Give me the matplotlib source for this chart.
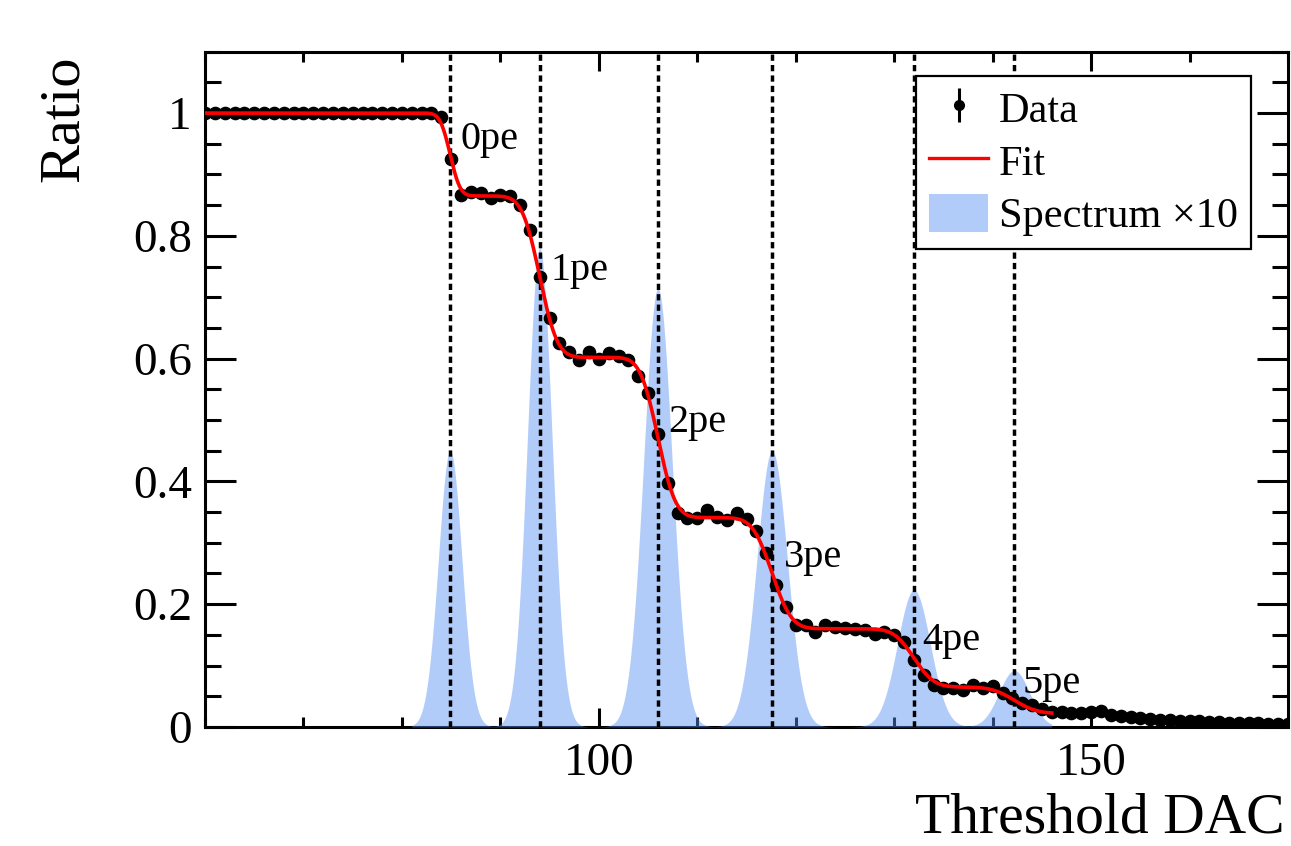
import math
import numpy as np
import matplotlib
matplotlib.use("Agg")
import matplotlib.pyplot as plt
from matplotlib.ticker import MultipleLocator, FuncFormatter
from matplotlib.patches import Patch
from matplotlib.lines import Line2D
from matplotlib.legend_handler import HandlerErrorbar

# ---------------- data ----------------
threshold = list(range(60, 171))
ratio = [1.0] * 24 + [
    0.993, 0.925, 0.866, 0.871, 0.869, 0.862, 0.866, 0.865, 0.850, 0.809,   # 84-93
    0.733, 0.667, 0.625, 0.610, 0.598, 0.611, 0.599, 0.609, 0.604, 0.597,   # 94-103
    0.572, 0.544, 0.477, 0.397, 0.349, 0.341, 0.340, 0.353, 0.342, 0.337,   # 104-113
    0.349, 0.338, 0.320, 0.283, 0.231, 0.196, 0.166, 0.166, 0.155, 0.166,   # 114-123
    0.163, 0.161, 0.159, 0.158, 0.151, 0.155, 0.150, 0.139, 0.109, 0.085,   # 124-133
    0.068, 0.063, 0.063, 0.061, 0.068, 0.063, 0.067, 0.055, 0.047, 0.039,   # 134-143
    0.036, 0.030, 0.025, 0.024, 0.023, 0.022, 0.024, 0.026, 0.020, 0.018,   # 144-153
    0.017, 0.014, 0.013, 0.012, 0.011, 0.010, 0.009, 0.009, 0.008, 0.008,   # 154-163
    0.007, 0.007, 0.006, 0.006, 0.005, 0.005, 0.005,                        # 164-170
]

pe_labels = ["0pe", "1pe", "2pe", "3pe", "4pe", "5pe"]
pe_pos = [84.9, 94.0, 106.0, 117.6, 132.0, 142.2]
label_x = [85.9, 95.1, 107.1, 118.8, 132.8, 143.0]
label_y = [0.941, 0.728, 0.481, 0.261, 0.125, 0.055]

# fit model (sum of error-function steps)
plateau_levels = [1.0, 0.865, 0.602, 0.341, 0.160, 0.065, 0.022]
fit_sigma = [0.8, 1.4, 1.4, 1.55, 1.6, 1.8]
fit_range = (60, 146)

# spectrum x10 (gaussian peaks)
spec_height = [0.45, 0.78, 0.714, 0.45, 0.223, 0.092]
spec_sigma = [1.2, 1.25, 1.45, 1.55, 1.67, 1.55]
spec_range = (81, 146)

# ---------------- style ----------------
plt.rcParams["font.family"] = ["Liberation Serif", "DejaVu Serif"]

fig = plt.figure(figsize=(12.91, 8.46), dpi=100)
ax = fig.add_axes([0.1588, 0.1407, 0.9977 - 0.1588, 0.9389 - 0.1407])

erf = np.vectorize(math.erf)

# spectrum
xs_s = np.linspace(spec_range[0], spec_range[1], 1500)
spec = np.zeros_like(xs_s)
for mu, h, s in zip(pe_pos, spec_height, spec_sigma):
    spec += h * np.exp(-0.5 * ((xs_s - mu) / s) ** 2)
spec_color = "#5891f4"
ax.fill_between(xs_s, 0, spec, color=spec_color, alpha=0.46, lw=0, zorder=3)

# dashed lines
for mu in pe_pos:
    ax.axvline(mu, color="black", lw=2.5, linestyle=(0, (1.8, 1.2)), zorder=4)

# data points
ax.plot(threshold, ratio, "o", color="black", ms=8.8, zorder=5)

# fit
xs_f = np.linspace(fit_range[0], fit_range[1], 1500)
levels = np.array(plateau_levels)
drops = levels[:-1] - levels[1:]
fit = np.full_like(xs_f, levels[-1])
for mu, d, s in zip(pe_pos, drops, fit_sigma):
    fit += d * 0.5 * (1 - erf((xs_f - mu) / (s * math.sqrt(2))))
ax.plot(xs_f, fit, color="red", lw=2.6, zorder=6)

# pe labels
for lx, ly, t in zip(label_x, label_y, pe_labels):
    ax.text(lx, ly, t, fontsize=29, ha="left", va="baseline", zorder=7)

ax.set_xlim(60, 170)
ax.set_ylim(0, 1.1)

ax.xaxis.set_major_locator(MultipleLocator(50))
ax.xaxis.set_minor_locator(MultipleLocator(10))
ax.yaxis.set_major_locator(MultipleLocator(0.2))
ax.yaxis.set_minor_locator(MultipleLocator(0.05))
ax.yaxis.set_major_formatter(FuncFormatter(lambda v, p: f"{v:g}"))
ax.xaxis.set_major_formatter(FuncFormatter(lambda v, p: f"{v:g}"))

ax.tick_params(which="both", direction="in", top=True, right=True, width=2.2)
ax.tick_params(axis="x", which="major", length=14, pad=11.5, labelsize=34)
ax.tick_params(axis="x", which="minor", length=7)
ax.tick_params(axis="y", which="major", length=22.3, pad=9.4, labelsize=34)
ax.tick_params(axis="y", which="minor", length=11.2)
for sp in ax.spines.values():
    sp.set_linewidth(2.2)

ax.set_xlabel("Threshold DAC", loc="right", fontsize=41.5)
ax.xaxis.set_label_coords(0.997, -0.1740)
ax.xaxis.label.set_va("bottom")
ax.set_ylabel("Ratio", loc="top", fontsize=42)
ax.yaxis.set_label_coords(-0.1060, 0.995)

# legend
h_data = ax.errorbar([], [], yerr=[], fmt="o", color="black", ms=7, capsize=9,
                     elinewidth=2.2, capthick=2.2)
h_fit = Line2D([], [], color="red", lw=2.4)
h_spec = Patch(facecolor=spec_color, alpha=0.46, edgecolor="none")
leg = ax.legend([h_data, h_fit, h_spec], ["Data", "Fit", "Spectrum \u00d710"],
                loc="upper right", bbox_to_anchor=(0.9656, 0.964), borderaxespad=0,
                fontsize=30.5, frameon=True, fancybox=False, edgecolor="black",
                framealpha=1, handlelength=1.4, handleheight=1.0,
                handletextpad=0.25, borderpad=0.3, labelspacing=0.24,
                handler_map={type(h_data): HandlerErrorbar(yerr_size=0.4)})
leg.get_frame().set_linewidth(1.6)
leg.set_zorder(10)

fig.savefig("out.png", dpi=100)
